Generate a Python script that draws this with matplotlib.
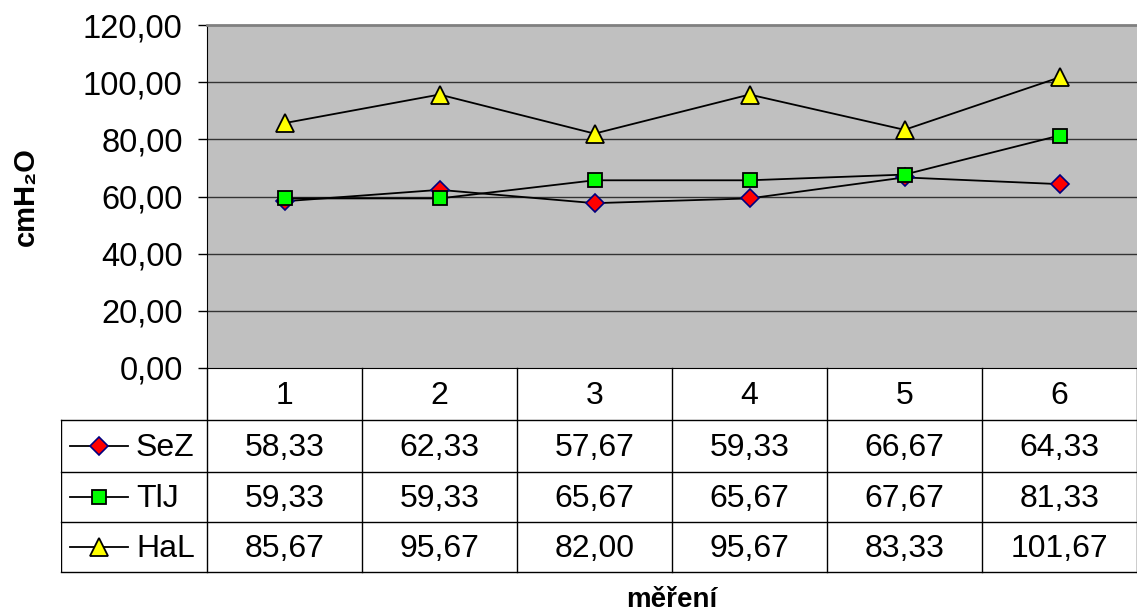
import matplotlib.pyplot as plt
import numpy as np

plt.rcParams['font.family'] = ['Liberation Sans', 'DejaVu Sans']

categories = ['1', '2', '3', '4', '5', '6']
series_names = ['SeZ', 'TlJ', 'HaL']
sez = [58.33, 62.33, 57.67, 59.33, 66.67, 64.33]
tlj = [59.33, 59.33, 65.67, 65.67, 67.67, 81.33]
hal = [85.67, 95.67, 82.00, 95.67, 83.33, 101.67]
yticks = [0, 20, 40, 60, 80, 100, 120]

styles = [
    dict(marker='D', ms=9, mfc='#ff0000', mec='#000080', mew=1.2),
    dict(marker='s', ms=10.5, mfc='#00ff00', mec='black', mew=1.3),
    dict(marker='^', ms=12.5, mfc='#ffff00', mec='black', mew=1.3),
]

W, H = 1137, 614
fig = plt.figure(figsize=(W / 100, H / 100), dpi=100)

def fx(px):
    return px / W

def fy(py):
    return 1 - py / H

# main plot
x0, x1, ytop, ybot = 207, 1137, 25, 368
ax = fig.add_axes([fx(x0), fy(ybot), fx(x1 - x0), (ybot - ytop) / H])
ax.set_facecolor('#c0c0c0')
xs = np.arange(len(categories))
for vals, st in zip([sez, tlj, hal], styles):
    ax.plot(xs, vals, color='black', lw=1.3, zorder=3, **st)
ax.set_xlim(-0.5, len(categories) - 0.5)
ax.set_ylim(0, 120)
ax.set_yticks(yticks)
ax.set_yticklabels([f'{v:.2f}'.replace('.', ',') for v in yticks], fontsize=23.5)
ax.set_xticks([])
ax.tick_params(axis='y', direction='out', length=6.5, width=1, pad=11)
for v in yticks[1:-1]:
    ax.axhline(v, color='#333333', lw=1, zorder=1)
ax.spines['top'].set_color('#808080')
ax.spines['top'].set_linewidth(2)
ax.spines['right'].set_visible(False)
ax.spines['left'].set_color('black')
ax.spines['bottom'].set_color('black')

fig.text(fx(26), fy(197), 'cmH₂O', rotation=90,
         ha='center', va='center', fontsize=21, fontweight='bold')

# data table
tx0, tbot = 61, 572
colw = (x1 - x0) / len(categories)
rows = [368, 420, 472, 522, 572]
tab = fig.add_axes([fx(tx0), fy(tbot), fx(x1 - tx0), (tbot - ybot) / H])
tab.set_xlim(tx0, x1)
tab.set_ylim(tbot, ybot)
tab.axis('off')
for k in range(len(categories) + 1):
    tab.plot([x0 + k * colw] * 2, [ybot, tbot], color='black', lw=1, clip_on=False)
for r in rows[1:]:
    tab.plot([tx0, x1], [r, r], color='black', lw=1, clip_on=False)
tab.plot([tx0, tx0], [rows[1], tbot], color='black', lw=1)

for i, c in enumerate(categories):
    tab.text(x0 + (i + 0.5) * colw, (rows[0] + rows[1]) / 2 + 2, c,
             ha='center', va='center', fontsize=23)
for j, (name, vals, st) in enumerate(zip(series_names, [sez, tlj, hal], styles)):
    cy = (rows[j + 1] + rows[j + 2]) / 2
    tab.plot([70, 128], [cy, cy], color='black', lw=1.3, clip_on=False)
    tab.plot([99], [cy], color='black', clip_on=False, **st)
    tab.text(136, cy + 2, name, ha='left', va='center', fontsize=23)
    for i, v in enumerate(vals):
        tab.text(x0 + (i + 0.5) * colw, cy + 2, f'{v:.2f}'.replace('.', ','),
                 ha='center', va='center', fontsize=23)

fig.text(fx(672), fy(600), 'měření', ha='center', va='center',
         fontsize=20, fontweight='bold')

fig.savefig('out.png', dpi=100)
